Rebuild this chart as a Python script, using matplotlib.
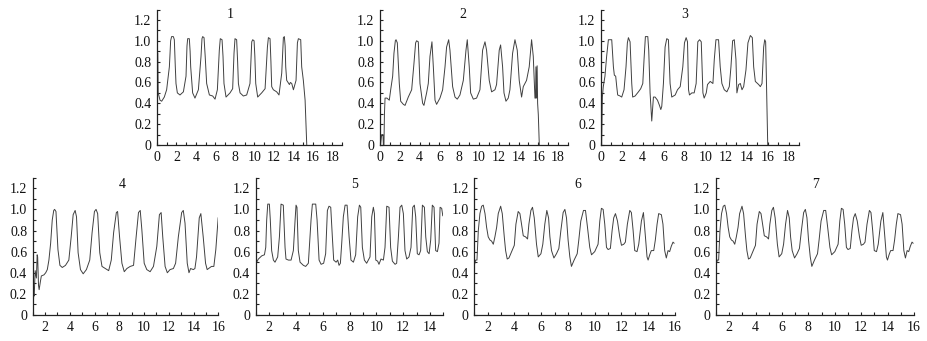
import matplotlib
matplotlib.use('Agg')
import matplotlib.pyplot as plt
from matplotlib.ticker import MultipleLocator, FixedLocator, FuncFormatter

W, H, DPI = 927, 341, 100

# ---- data: (time, normalised value) key points ----
trace1 = [(0.02, 0.90), (0.08, 0.88), (0.12, 0.50), (0.31, 0.43), (0.48, 0.42), (0.75, 0.46), (0.99, 0.53),
          (1.27, 0.75), (1.34, 0.88), (1.40, 1.00), (1.50, 1.04), (1.68, 1.04), (1.78, 1.01), (1.88, 0.75),
          (1.95, 0.59), (2.09, 0.50), (2.36, 0.48), (2.71, 0.51), (2.98, 0.66), (3.08, 0.95), (3.15, 1.02),
          (3.32, 1.02), (3.40, 0.90), (3.46, 0.75), (3.66, 0.50), (3.90, 0.45), (4.25, 0.53), (4.52, 0.85),
          (4.62, 1.02), (4.69, 1.04), (4.83, 1.03), (4.95, 0.85), (5.10, 0.59), (5.38, 0.48), (5.72, 0.47),
          (5.96, 0.44), (6.20, 0.53), (6.40, 0.91), (6.50, 1.02), (6.68, 1.01), (6.78, 0.85), (6.88, 0.59),
          (7.09, 0.46), (7.50, 0.50), (7.77, 0.54), (7.91, 0.88), (8.01, 1.02), (8.18, 1.01), (8.28, 0.80),
          (8.36, 0.59), (8.53, 0.50), (8.87, 0.47), (9.21, 0.48), (9.55, 0.59), (9.73, 0.99), (9.83, 1.01),
          (9.97, 1.00), (10.05, 0.85), (10.14, 0.59), (10.34, 0.46), (10.75, 0.50), (11.10, 0.54),
          (11.34, 0.94), (11.44, 1.03), (11.61, 1.02), (11.70, 0.80), (11.78, 0.56), (11.95, 0.53),
          (12.29, 0.51), (12.53, 0.48), (12.81, 0.69), (12.98, 1.03), (13.08, 1.04), (13.16, 0.95),
          (13.22, 0.75), (13.32, 0.62), (13.60, 0.58), (13.70, 0.60), (13.84, 0.59), (14.01, 0.53),
          (14.28, 0.62), (14.42, 0.98), (14.52, 1.02), (14.76, 1.01), (14.86, 0.75), (15.03, 0.62),
          (15.21, 0.43), (15.38, 0.00)]

trace2 = [(0.05, 0.00), (0.17, 0.10), (0.30, 0.10), (0.34, 0.00), (0.40, 0.00), (0.45, 0.30), (0.51, 0.45),
          (0.70, 0.45), (0.94, 0.43), (1.08, 0.53), (1.28, 0.66), (1.41, 0.88), (1.55, 1.00), (1.62, 1.01),
          (1.75, 0.98), (1.95, 0.59), (2.09, 0.42), (2.36, 0.39), (2.53, 0.38), (2.86, 0.46), (3.20, 0.53),
          (3.43, 0.78), (3.60, 0.98), (3.70, 1.00), (3.87, 0.99), (4.04, 0.59), (4.31, 0.40), (4.44, 0.38),
          (4.71, 0.50), (4.88, 0.59), (5.05, 0.85), (5.25, 0.99), (5.39, 0.75), (5.56, 0.43), (5.72, 0.39),
          (6.06, 0.45), (6.33, 0.53), (6.57, 0.75), (6.73, 0.94), (6.94, 1.01), (7.07, 0.91), (7.34, 0.56),
          (7.58, 0.46), (7.81, 0.44), (8.08, 0.48), (8.42, 0.62), (8.69, 0.91), (8.82, 1.01), (9.02, 0.75),
          (9.16, 0.50), (9.43, 0.44), (9.76, 0.45), (10.10, 0.53), (10.37, 0.91), (10.61, 0.99),
          (10.77, 0.91), (11.04, 0.62), (11.28, 0.51), (11.62, 0.53), (11.78, 0.58), (12.05, 0.91),
          (12.19, 0.96), (12.39, 0.75), (12.53, 0.50), (12.73, 0.42), (12.96, 0.45), (13.13, 0.53),
          (13.40, 0.88), (13.64, 1.01), (13.87, 0.91), (14.07, 0.62), (14.31, 0.46), (14.48, 0.56),
          (14.81, 0.62), (15.08, 0.75), (15.32, 1.01), (15.49, 0.85), (15.66, 0.45), (15.72, 0.45),
          (15.76, 0.75), (15.82, 0.45), (15.88, 0.76), (15.93, 0.40), (16.00, 0.29), (16.10, 0.00)]

trace3 = [(0.06, 0.00), (0.13, 0.46), (0.22, 0.56), (0.38, 0.66), (0.54, 0.85), (0.71, 1.01), (1.03, 1.01),
          (1.19, 0.75), (1.28, 0.67), (1.41, 0.66), (1.51, 0.56), (1.60, 0.48), (1.83, 0.47), (1.99, 0.46),
          (2.21, 0.53), (2.40, 0.75), (2.53, 0.98), (2.63, 1.03), (2.79, 0.99), (2.95, 0.59), (3.04, 0.46),
          (3.27, 0.47), (3.59, 0.51), (3.81, 0.54), (4.01, 0.59), (4.13, 0.82), (4.26, 1.04), (4.49, 1.04),
          (4.58, 0.91), (4.71, 0.50), (4.87, 0.23), (5.03, 0.46), (5.19, 0.46), (5.42, 0.43), (5.61, 0.38),
          (5.74, 0.34), (5.83, 0.37), (5.99, 0.59), (6.15, 0.94), (6.31, 1.02), (6.47, 1.01), (6.63, 0.59),
          (6.79, 0.46), (7.12, 0.48), (7.34, 0.53), (7.60, 0.56), (7.85, 0.75), (8.01, 0.98), (8.17, 1.03),
          (8.30, 0.99), (8.40, 0.53), (8.49, 0.48), (8.72, 0.50), (8.94, 0.50), (9.13, 0.59), (9.29, 0.99),
          (9.46, 1.01), (9.62, 0.99), (9.78, 0.50), (9.90, 0.45), (10.10, 0.50), (10.22, 0.58),
          (10.48, 0.61), (10.74, 0.59), (10.87, 0.82), (11.03, 1.01), (11.28, 1.01), (11.44, 0.75),
          (11.60, 0.59), (11.83, 0.53), (12.08, 0.51), (12.31, 0.56), (12.47, 0.75), (12.63, 1.00),
          (12.79, 1.01), (12.95, 0.82), (13.04, 0.50), (13.21, 0.58), (13.37, 0.59), (13.53, 0.53),
          (13.69, 0.56), (13.91, 0.72), (14.10, 0.98), (14.33, 1.05), (14.52, 1.03), (14.65, 0.75),
          (14.81, 0.61), (15.13, 0.58), (15.29, 0.56), (15.45, 0.59), (15.61, 0.94), (15.71, 1.01),
          (15.80, 0.99), (15.93, 0.34), (16.00, 0.00)]

trace4 = [(1.03, 0.02), (1.08, 0.20), (1.12, 0.18), (1.20, 0.42), (1.30, 0.35), (1.36, 0.57), (1.40, 0.55),
          (1.47, 0.28), (1.52, 0.24), (1.64, 0.33), (1.70, 0.37), (1.91, 0.38), (2.05, 0.40), (2.18, 0.43),
          (2.31, 0.52), (2.45, 0.68), (2.58, 0.90), (2.70, 0.99), (2.77, 1.00), (2.88, 0.98), (3.04, 0.62),
          (3.20, 0.47), (3.39, 0.45), (3.65, 0.47), (3.92, 0.52), (4.11, 0.74), (4.27, 0.95), (4.43, 0.99),
          (4.54, 0.93), (4.67, 0.59), (4.86, 0.43), (5.08, 0.39), (5.34, 0.43), (5.61, 0.52), (5.80, 0.78),
          (5.99, 0.98), (6.12, 1.00), (6.25, 0.96), (6.42, 0.59), (6.60, 0.46), (6.87, 0.44), (7.14, 0.42),
          (7.35, 0.52), (7.54, 0.78), (7.76, 0.97), (7.86, 0.98), (8.02, 0.74), (8.21, 0.49), (8.40, 0.41),
          (8.61, 0.44), (8.88, 0.46), (9.15, 0.47), (9.36, 0.74), (9.55, 0.97), (9.69, 0.99), (9.82, 0.81),
          (10.01, 0.49), (10.22, 0.43), (10.49, 0.41), (10.76, 0.46), (11.03, 0.65), (11.24, 0.95),
          (11.38, 0.97), (11.51, 0.74), (11.70, 0.46), (11.88, 0.40), (12.10, 0.43), (12.37, 0.44),
          (12.55, 0.49), (12.77, 0.74), (13.04, 0.97), (13.17, 0.99), (13.31, 0.87), (13.49, 0.49),
          (13.63, 0.40), (13.76, 0.44), (13.98, 0.43), (14.11, 0.44), (14.24, 0.55), (14.46, 0.92),
          (14.59, 0.96), (14.78, 0.74), (14.97, 0.49), (15.10, 0.43), (15.45, 0.46), (15.64, 0.46),
          (15.80, 0.62), (15.99, 0.92)]

trace5 = [(1.00, 0.53), (1.07, 0.50), (1.20, 0.53), (1.45, 0.56), (1.65, 0.57), (1.75, 0.64), (1.82, 0.90),
          (1.90, 1.05), (2.02, 1.05), (2.09, 0.90), (2.19, 0.61), (2.32, 0.52), (2.44, 0.50), (2.64, 0.55),
          (2.77, 0.74), (2.89, 1.05), (3.06, 1.04), (3.19, 0.64), (3.26, 0.53), (3.44, 0.52), (3.64, 0.52),
          (3.81, 0.61), (3.94, 0.90), (4.01, 1.04), (4.08, 1.02), (4.18, 0.61), (4.31, 0.50), (4.56, 0.47),
          (4.73, 0.46), (4.93, 0.49), (5.13, 0.90), (5.23, 1.05), (5.48, 1.05), (5.58, 0.90), (5.73, 0.52),
          (5.88, 0.48), (6.07, 0.49), (6.22, 0.58), (6.35, 0.99), (6.47, 1.03), (6.60, 1.02), (6.72, 0.74),
          (6.82, 0.52), (7.00, 0.50), (7.12, 0.52), (7.22, 0.47), (7.32, 0.49), (7.42, 0.68), (7.54, 0.93),
          (7.67, 1.04), (7.82, 1.04), (7.97, 0.74), (8.11, 0.52), (8.29, 0.50), (8.46, 0.57), (8.61, 0.93),
          (8.74, 1.04), (8.84, 1.02), (8.96, 0.64), (9.11, 0.52), (9.28, 0.49), (9.53, 0.55), (9.66, 0.93),
          (9.78, 1.02), (9.86, 0.96), (9.96, 0.52), (10.10, 0.51), (10.20, 0.48), (10.35, 0.53),
          (10.53, 0.52), (10.65, 0.64), (10.78, 1.03), (10.95, 1.02), (11.07, 0.64), (11.20, 0.51),
          (11.40, 0.48), (11.52, 0.49), (11.65, 0.74), (11.77, 1.02), (11.90, 1.04), (12.02, 0.96),
          (12.14, 0.61), (12.27, 0.53), (12.44, 0.55), (12.59, 0.64), (12.72, 1.02), (12.84, 1.04),
          (12.94, 0.93), (13.06, 0.58), (13.19, 0.57), (13.31, 0.61), (13.44, 1.04), (13.59, 1.02),
          (13.69, 0.74), (13.81, 0.60), (13.94, 0.58), (14.06, 0.71), (14.18, 1.04), (14.31, 1.02),
          (14.43, 0.61), (14.56, 0.60), (14.68, 0.68), (14.76, 1.02), (14.88, 1.01), (14.96, 0.94)]

trace6 = [(1.00, 0.47), (1.10, 0.52), (1.20, 0.52), (1.30, 0.80), (1.42, 0.96), (1.55, 1.03), (1.67, 1.04),
          (1.80, 0.96), (1.92, 0.83), (2.04, 0.74), (2.17, 0.71), (2.29, 0.70), (2.42, 0.67), (2.54, 0.74),
          (2.67, 0.83), (2.79, 0.96), (2.97, 1.03), (3.09, 0.96), (3.24, 0.74), (3.34, 0.61), (3.46, 0.53),
          (3.59, 0.54), (3.79, 0.60), (3.99, 0.66), (4.11, 0.86), (4.28, 0.98), (4.41, 0.96), (4.53, 0.86),
          (4.66, 0.75), (4.83, 0.74), (4.98, 0.72), (5.08, 0.86), (5.23, 0.99), (5.35, 1.02), (5.48, 0.92),
          (5.65, 0.67), (5.78, 0.55), (5.98, 0.58), (6.12, 0.67), (6.27, 0.86), (6.42, 0.99), (6.55, 0.92),
          (6.65, 0.74), (6.77, 0.61), (6.95, 0.54), (7.14, 0.58), (7.32, 0.63), (7.47, 0.80), (7.64, 0.97),
          (7.77, 1.00), (7.89, 0.92), (8.01, 0.71), (8.14, 0.55), (8.26, 0.46), (8.46, 0.52), (8.69, 0.58),
          (8.81, 0.71), (8.96, 0.89), (9.16, 0.99), (9.31, 0.99), (9.46, 0.83), (9.63, 0.64), (9.76, 0.57),
          (10.00, 0.60), (10.25, 0.67), (10.38, 0.89), (10.50, 1.01), (10.63, 1.00), (10.75, 0.86),
          (10.88, 0.64), (11.00, 0.62), (11.17, 0.63), (11.30, 0.80), (11.42, 0.92), (11.55, 0.96),
          (11.70, 0.89), (11.87, 0.74), (12.00, 0.66), (12.17, 0.67), (12.29, 0.69), (12.44, 0.86),
          (12.62, 0.99), (12.74, 0.97), (12.87, 0.80), (12.99, 0.61), (13.16, 0.60), (13.29, 0.67),
          (13.49, 0.89), (13.64, 0.97), (13.79, 0.74), (13.91, 0.55), (13.99, 0.52), (14.11, 0.57),
          (14.23, 0.61), (14.41, 0.61), (14.53, 0.71), (14.66, 0.86), (14.78, 0.96), (14.98, 0.95),
          (15.10, 0.86), (15.23, 0.61), (15.35, 0.54), (15.48, 0.61), (15.60, 0.60), (15.72, 0.65),
          (15.85, 0.69), (15.93, 0.68)]

# panel 7 shows the same trace as panel 6
trace7 = list(trace6)

traces = [trace1, trace2, trace3, trace4, trace5, trace6, trace7]
titles = ['1', '2', '3', '4', '5', '6', '7']
x_ranges = [(0, 19), (0, 19), (0, 19), (1, 16), (1, 15), (1, 16), (1, 16)]
x_labels = [list(range(0, 19, 2))] * 3 + [list(range(2, 17, 2)), list(range(2, 15, 2)),
                                           list(range(2, 17, 2)), list(range(2, 17, 2))]
y_labels = [0, 0.2, 0.4, 0.6, 0.8, 1.0, 1.2]

# ---- layout (pixel boxes: left, right, top, bottom) ----
boxes = [(157, 342, 9.5, 145), (380, 568, 9.5, 145), (601, 799, 9.5, 145),
         (32.7, 218.3, 177.7, 315), (255.7, 443.3, 177.7, 315),
         (474.3, 675, 177.7, 315), (716, 914, 177.7, 315)]
title_pos = [(230, 15), (463, 15), (685, 15), (122, 185), (355, 184), (578, 184), (816, 184)]

plt.rcParams['font.family'] = ['Liberation Serif', 'DejaVu Serif']
fig = plt.figure(figsize=(W / DPI, H / DPI), dpi=DPI)
fig.patch.set_facecolor('white')

def ylab(v, pos):
    if abs(v) < 1e-9:
        return '0'
    return '%.1f' % v

for i, tr in enumerate(traces):
    l, r, t, b = boxes[i]
    ax = fig.add_axes([l / W, 1 - b / H, (r - l) / W, (b - t) / H])
    xs = [p[0] for p in tr]
    ys = [p[1] for p in tr]
    ax.plot(xs, ys, color='#404040', lw=0.7, solid_joinstyle='round')
    ax.set_xlim(*x_ranges[i])
    ax.set_ylim(0, 1.3)
    for s in ['top', 'right']:
        ax.spines[s].set_visible(False)
    for s in ['left', 'bottom']:
        ax.spines[s].set_linewidth(0.9)
        ax.spines[s].set_color('#222222')
    ax.xaxis.set_major_locator(FixedLocator(x_labels[i]))
    ax.xaxis.set_minor_locator(MultipleLocator(1))
    ax.yaxis.set_major_locator(FixedLocator(y_labels))
    ax.yaxis.set_minor_locator(MultipleLocator(0.1))
    ax.yaxis.set_major_formatter(FuncFormatter(ylab))
    ax.tick_params(which='both', direction='in', length=2.5, width=0.8, color='#222222',
                   labelsize=10, labelcolor='#111111')
    ax.tick_params(axis='x', which='both', pad=4)
    ax.tick_params(axis='y', which='both', pad=4)
    ax.patch.set_alpha(0)
    tx, ty = title_pos[i]
    fig.text(tx / W, 1 - ty / H, titles[i], ha='center', va='center', fontsize=10, color='#111111')

fig.savefig('out.png', dpi=DPI, facecolor='white')
